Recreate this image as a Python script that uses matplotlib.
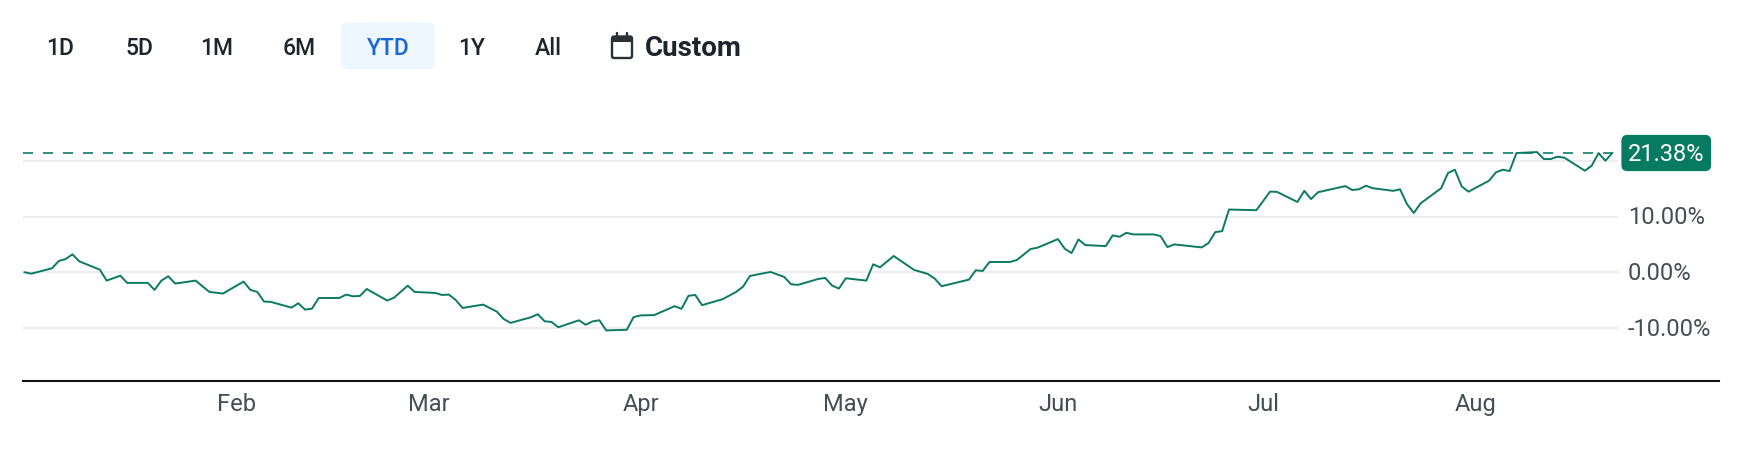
import matplotlib
matplotlib.use("Agg")
import matplotlib.pyplot as plt
from matplotlib.patches import FancyBboxPatch, Rectangle
from matplotlib.transforms import blended_transform_factory

plt.rcParams['font.family'] = ['Roboto', 'DejaVu Sans']
plt.rcParams['lines.scale_dashes'] = False

# YTD performance: day offset from Jan 1 and return in %
days = [0, 1, 4, 5, 6, 7, 8, 11, 12, 14, 15, 18, 19, 20, 21, 22, 25, 27, 29,
        32, 33, 34, 35, 36, 39, 40, 41, 42, 43, 46, 47, 48, 49, 50, 53, 54, 56,
        57, 60, 61, 62, 63, 64, 67, 69, 70, 71, 74, 75, 76, 77, 78, 81, 82, 83,
        84, 85, 88, 89, 90, 92, 95, 96, 97, 98, 99, 102, 104, 105, 106, 109,
        111, 112, 113, 116, 117, 118, 119, 120, 123, 124, 125, 127, 130, 132,
        133, 134, 137, 138, 139, 140, 141, 144, 145, 147, 148, 151, 152, 153,
        154, 155, 158, 159, 160, 161, 162, 165, 166, 167, 168, 172, 173, 174,
        175, 176, 180, 182, 183, 186, 187, 188, 189, 193, 194, 195, 196, 197,
        200, 201, 202, 203, 204, 207, 208, 209, 210, 211, 214, 215, 216, 217,
        218, 221, 222, 223, 224, 225, 228, 229, 230, 231, 232]
returns = [0.0, -0.24, 0.71, 2.02, 2.38, 3.21, 1.96, 0.48, -1.49, -0.6, -1.9,
           -1.9, -3.15, -1.49, -0.71, -2.02, -1.49, -3.51, -3.81, -1.67, -3.15,
           -3.51, -5.25, -5.31, -6.33, -5.55, -6.69, -6.51, -4.6, -4.6, -4.0,
           -4.3, -4.24, -2.99, -5.07, -4.54, -2.39, -3.52, -3.7, -4.06, -4.0,
           -4.96, -6.39, -5.79, -7.04, -8.36, -9.07, -8.06, -7.52, -8.78, -8.9,
           -9.85, -8.6, -9.4, -8.8, -8.6, -10.42, -10.3, -8.03, -7.73, -7.67,
           -6.07, -6.55, -4.23, -4.05, -5.89, -4.82, -3.51, -2.56, -0.65, 0.06,
           -0.83, -2.14, -2.26, -1.19, -1.01, -2.38, -2.92, -1.07, -1.49, 1.43,
           0.89, 2.92, 0.42, -0.3, -1.13, -2.5, -1.61, -1.31, 0.36, 0.24, 1.85,
           1.85, 2.2, 4.17, 4.4, 5.95, 4.23, 3.45, 5.89, 4.88, 4.7, 6.61, 6.37,
           7.08, 6.79, 6.79, 6.49, 4.52, 5.0, 4.46, 5.24, 7.2, 7.38, 11.25,
           11.13, 14.46, 14.42, 12.6, 14.6, 13.12, 14.35, 15.45, 14.75, 14.88,
           15.52, 15.07, 14.6, 14.87, 12.24, 10.63, 12.36, 15.07, 17.79, 18.39,
           15.4, 14.45, 16.42, 17.91, 18.39, 18.15, 21.37, 21.55, 20.3, 20.3,
           20.72, 20.54, 18.21, 19.1, 21.37, 20.0, 21.38]

months = ['Feb', 'Mar', 'Apr', 'May', 'Jun', 'Jul', 'Aug']
month_days = [31, 59, 90, 120, 151, 181, 212]
y_ticks = [-10, 0, 10, 20]
ranges = ['1D', '5D', '1M', '6M', 'YTD', '1Y', 'All']
selected = 'YTD'

W, H = 1754, 464
fig = plt.figure(figsize=(W / 100, H / 100), dpi=100)

# header with range buttons (pixel coordinates)
hdr = fig.add_axes([0, 0, 1, 1], zorder=-1)
hdr.set_xlim(0, W)
hdr.set_ylim(H, 0)
hdr.axis('off')

btn_x = [60, 139, 217, 299, 388, 472, 548]
for lab, bx in zip(ranges, btn_x):
    if lab == selected:
        hdr.add_patch(FancyBboxPatch((bx - 47, 23.5), 94, 47, boxstyle='round,pad=0,rounding_size=8',
                                     fc='#eef6fe', ec='none'))
        col = '#1b67d3'
    else:
        col = '#1f242a'
    hdr.text(bx, 48.5, lab, ha='center', va='center', fontsize=16.5, fontweight='medium', color=col)

# calendar icon + Custom
hdr.add_patch(FancyBboxPatch((612, 37.5), 20, 21.5, boxstyle='round,pad=0,rounding_size=2',
                             fc='none', ec='#2b3036', lw=1.7))
hdr.add_patch(Rectangle((612, 37.5), 20, 5, fc='#2b3036', ec='none'))
hdr.plot([617, 617], [33.5, 39], color='#2b3036', lw=1.7, solid_capstyle='round')
hdr.plot([627, 627], [33.5, 39], color='#2b3036', lw=1.7, solid_capstyle='round')
hdr.text(645, 48.5, 'Custom', ha='left', va='center', fontsize=20, fontweight='bold', color='#1f242a')

# main chart
ax = fig.add_axes([22.7 / W, (H - 381.7) / H, (1719 - 22.7) / W, (381.7 - 100) / H])
ax.set_xlim(-0.27, 247.6)
ax.set_ylim(-19.43, 31.06)
ax.set_facecolor('none')

ax.hlines(y_ticks, -0.27, days[-1] + 0.9, color='#ececec', lw=1.3, zorder=0)
ax.plot([-0.27, days[-1]], [returns[-1], returns[-1]], color='#2f8f7b', lw=1.4,
        dashes=(7.2, 7.2), zorder=1)
ax.plot(days, returns, color='#0b7a64', lw=1.4, zorder=2)

trans = blended_transform_factory(ax.transAxes, ax.transData)
lab_x = (1628 - 22.7) / (1719 - 22.7)
for v in y_ticks:
    ax.text(lab_x, v, f'{v:.2f}%', transform=trans, ha='left', va='center',
            fontsize=17, color='#474d54')
ax.text(lab_x, returns[-1], f'{returns[-1]:.2f}%', transform=trans, ha='left', va='center',
        fontsize=17, color='white', zorder=6,
        bbox=dict(boxstyle='round,pad=0.28,rounding_size=0.25', fc='#077a62', ec='none'))

for s in ['top', 'left', 'right']:
    ax.spines[s].set_visible(False)
ax.spines['bottom'].set_color('#111111')
ax.spines['bottom'].set_linewidth(1.5)
ax.set_yticks([])
ax.set_xticks(month_days)
ax.set_xticklabels(months)
ax.tick_params(axis='x', length=0, pad=8, labelsize=17, labelcolor='#474d54')

fig.savefig('out.png', dpi=100)
